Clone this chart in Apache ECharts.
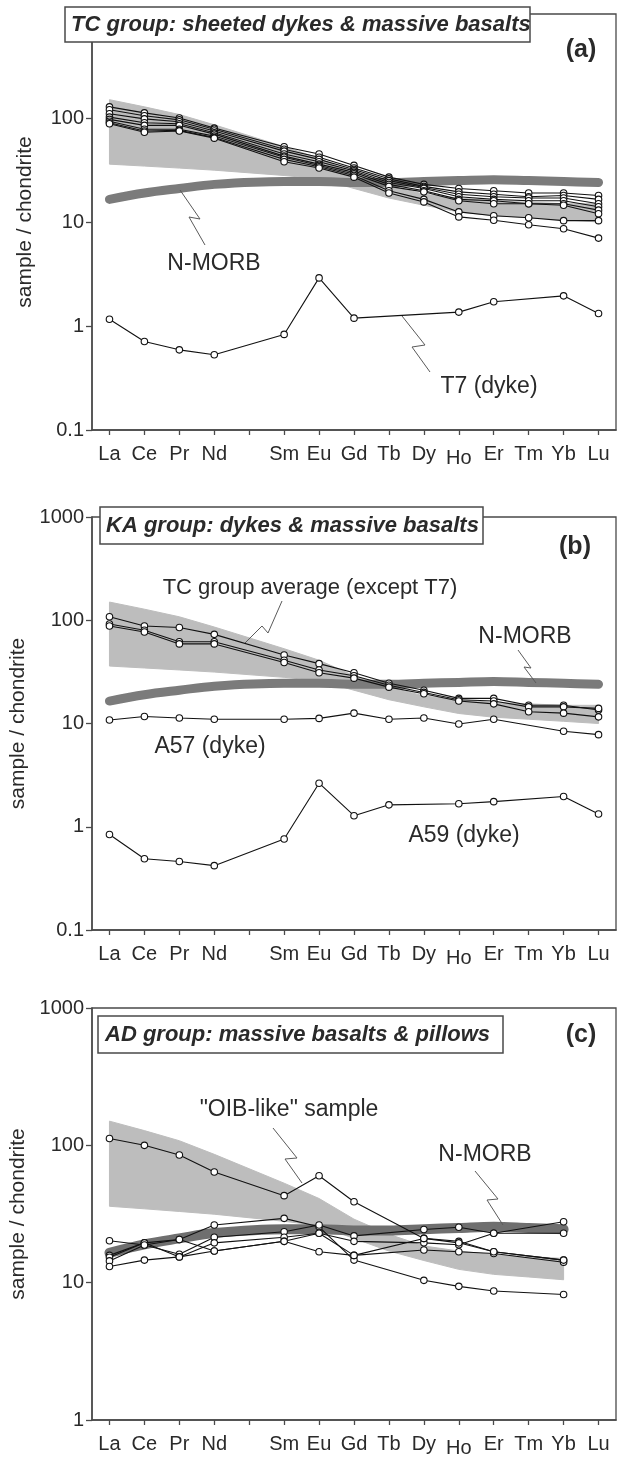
<!DOCTYPE html>
<html><head><meta charset="utf-8">
<script src="https://cdn.jsdelivr.net/npm/echarts@6/dist/echarts.min.js"></script>
<style>html,body{margin:0;padding:0;background:#fff}#c{width:624px;height:1457px}</style>
</head><body><div id="c"></div>
<script>
// ---- categories / tick labels ----
const elements   = ['La','Ce','Pr','Nd','Pm','Sm','Eu','Gd','Tb','Dy','Ho','Er','Tm','Yb','Lu'];
const tickLabels = ['La','Ce','Pr','Nd','','Sm','Eu','Gd','Tb','Dy','Ho','Er','Tm','Yb','Lu'];
const yTicksAB = [0.1, 1, 10, 100, 1000];
const yTicksC  = [1, 10, 100, 1000];

// ---- reference curves ----
const nmorb      = [16.5,19,21,23,null,24.5,24.5,24,24,24.5,25,25.5,25,24.5,24];
const bandTop    = [150,128,108,86,null,53,41,29,22.5,18.5,17,16,15.5,15,15];
const bandBottom = [36,34.5,33,31.5,null,28,26,21,17,14.5,12.5,11.5,11,10.5,10];

// ---- (a) TC group ----
const tc1 = [128,112,100,80,null,53,45,35,27,23,21,20,19,19,18];
const tc2 = [120,105,96,78,null,50,42,33,26,22,19.5,18.5,17.5,18,16.5];
const tc3 = [110,98,92,75,null,48,40,32,25,21.5,18.5,17.5,17,17,15];
const tc4 = [102,90,88,72,null,45,38,31,24,21,17.5,16.5,16,16,14];
const tc5 = [97,85,85,70,null,43,36,30,23,20,16.5,16,15,15,13];
const tc6 = [93,78,78,67,null,42,35,29,22,19.5,16,15,15,14.5,12];
const tc7 = [90,75,76,65,null,40,34,28,20,16.5,12.5,11.5,11,10.3,10.3];
const tc8 = [88,73,75,64,null,38,33,27,19,15.6,11.2,10.4,9.4,8.6,7.0];
const t7  = [1.16,0.71,0.59,0.53,null,0.83,2.9,1.19,null,null,1.36,1.71,null,1.95,1.32];

// ---- (b) KA group ----
const ka1 = [108,88,85,73,null,46,38,31,24.5,21,17.5,17.5,15,15,13.5];
const ka2 = [92,80,62,62,null,41,33,29,23.5,20,17,16.5,14.5,14.5,14];
const ka3 = [88,77,59,59,null,39,31,27.5,22.5,19.4,16.5,15.5,13,12.6,11.6];
const a57 = [10.8,11.7,11.3,11,null,11,11.2,12.6,11,11.3,9.9,11,null,8.4,7.8];
const a59 = [0.84,0.49,0.46,0.42,null,0.76,2.64,1.28,1.63,null,1.67,1.75,null,1.96,1.33];

// ---- (c) AD group ----
const ad1 = [15.8,19.5,20.6,26.3,null,29.4,25.5,14.6,null,10.4,9.4,8.7,null,8.2,null];
const ad2 = [20.2,18.8,16.1,21.4,null,23.5,26.3,21.9,null,24.4,25.3,22.9,null,22.9,null];
const ad3 = [15.3,19.5,15.4,19.5,null,21.4,22.9,20,null,19.5,18.9,22.9,null,27.8,null];
const ad4 = [14.4,18.8,20.6,17,null,20,22.9,15.8,null,21,20,16.8,null,14.6,null];
const ad5 = [13.1,14.6,15.4,17,null,20,16.8,15.8,null,17.3,16.8,16.3,null,14.1,null];
const oib = [112,100,85,64,null,43,60,38.8,null,21,19.5,16.8,null,14.6,null];

const FONT = '"Liberation Sans", Arial, Helvetica, sans-serif';
const AX = '#4a4a4a';
const TXT = '#2a2a2a';

const grids = [
  {left:92, right:8, top:14,   height:416},
  {left:92, right:8, top:517,  height:413},
  {left:92, right:8, top:1008, height:412}
].map(g => Object.assign({show:true, borderColor:AX, borderWidth:1.3, backgroundColor:'transparent', containLabel:false, outerBoundsMode:'none'}, g));

function xAxis(i){
  return {
    type:'category', gridIndex:i, data:elements, boundaryGap:true,
    axisLine:{show:true, lineStyle:{color:AX, width:1.5}},
    axisTick:{show:true, alignWithLabel:true, length:5, lineStyle:{color:AX, width:1.3}},
    axisLabel:{show:true, interval:0, margin:14, fontSize:20, fontFamily:FONT, color:TXT,
      formatter:(v, idx) => { const t = tickLabels[idx]; return t === 'Ho' ? '{ho|Ho}' : t; },
      rich:{ho:{fontSize:20, fontFamily:FONT, color:TXT, padding:[4,0,0,0]}}},
    splitLine:{show:false}
  };
}
function fmtY(v){ const n = Number(Number(v).toPrecision(3)); return String(n); }
function yAxis(i, ticks, hideTop){
  return {
    type:'log', logBase:10, gridIndex:i, min:ticks[0], max:ticks[ticks.length-1],
    name:'sample / chondrite', nameLocation:'middle', nameGap:56, nameRotate:90,
    nameTextStyle:{fontSize:21, fontFamily:FONT, color:TXT},
    axisLine:{show:true, lineStyle:{color:AX, width:1.5}},
    axisTick:{show:true, length:6, lineStyle:{color:AX, width:1.3}},
    axisLabel:{show:true, margin:8, fontSize:20, fontFamily:FONT, color:TXT,
      formatter:(v) => (hideTop && v >= 999) ? '' : fmtY(v)},
    splitLine:{show:false}, minorTick:{show:false}
  };
}

function sampleLine(data, i){
  return {type:'line', xAxisIndex:i, yAxisIndex:i, data, connectNulls:true,
    symbol:'circle', symbolSize:6.5, showSymbol:true, showAllSymbol:true,
    lineStyle:{color:'#111', width:1.1}, itemStyle:{color:'#fff', borderColor:'#111', borderWidth:1.1},
    z:5, silent:true, animation:false, emphasis:{disabled:true}};
}
function morbLine(data, i, color, width){
  return {type:'line', xAxisIndex:i, yAxisIndex:i, data, connectNulls:true, smooth:0.35,
    symbol:'none', lineStyle:{color, width, cap:'round'}, z:3, silent:true, animation:false};
}
function band(i, top, bot){
  return {type:'custom', xAxisIndex:i, yAxisIndex:i, z:1, silent:true, animation:false,
    data:[[0, top[0]]],
    renderItem(params, api){
      const pts = [];
      top.forEach((v,k) => { if (v != null) pts.push(api.coord([k, v])); });
      for (let k = bot.length-1; k >= 0; k--) if (bot[k] != null) pts.push(api.coord([k, bot[k]]));
      return {type:'polygon', shape:{points:pts}, style:{fill:'#bdbdbd', stroke:'#bdbdbd', lineWidth:1}};
    }};
}

const series = [
  band(0, bandTop, bandBottom),
  morbLine(nmorb, 0, '#7b7b7b', 9),
  ...[tc1,tc2,tc3,tc4,tc5,tc6,tc7,tc8,t7].map(d => sampleLine(d, 0)),
  band(1, bandTop, bandBottom),
  morbLine(nmorb, 1, '#7b7b7b', 9),
  ...[ka1,ka2,ka3,a57,a59].map(d => sampleLine(d, 1)),
  band(2, bandTop.slice(0,14), bandBottom.slice(0,14)),
  morbLine(nmorb.slice(0,14), 2, '#6f6f6f', 10),
  ...[ad1,ad2,ad3,ad4,ad5,oib].map(d => sampleLine(d, 2))
];

function txt(x, y, text, font, align){
  return {type:'text', x, y, z:101, silent:true,
    style:{text, font, fill:TXT, align:align||'left', verticalAlign:'middle', textAlign:align||'left', textVerticalAlign:'middle'}};
}
function box(x, y, w, h){
  return {type:'rect', z:100, silent:true, shape:{x, y, width:w, height:h}, style:{fill:'#fff', stroke:AX, lineWidth:1.5}};
}
function leader(points){
  return {type:'polyline', z:100, silent:true, shape:{points}, style:{stroke:'#5a5a5a', lineWidth:1, fill:null}};
}
const BI = 'italic bold 22px ' + FONT;
const BL = 'bold 25px ' + FONT;
const RG = '23px ' + FONT;

const graphic = [
  box(65, 7, 465, 35), txt(71, 25, 'TC group: sheeted dykes & massive basalts', BI),
  txt(581, 50, '(a)', BL, 'center'),
  txt(214, 264, 'N-MORB', RG, 'center'),
  leader([[180,190],[200,219],[189,217],[205,245]]),
  txt(489, 387, 'T7 (dyke)', RG, 'center'),
  leader([[402,316],[425,345],[412,347],[430,372]]),

  box(100, 507, 383, 37), txt(106, 526, 'KA group: dykes & massive basalts', BI),
  txt(575, 547, '(b)', BL, 'center'),
  txt(310, 588, 'TC group average (except T7)', '22px ' + FONT, 'center'),
  leader([[245,643],[262,626],[268,633],[282,601]]),
  txt(525, 637, 'N-MORB', RG, 'center'),
  leader([[518,650],[531,668],[524,667],[536,683]]),
  txt(210, 747, 'A57 (dyke)', RG, 'center'),
  txt(464, 836, 'A59 (dyke)', RG, 'center'),

  box(98, 1016, 405, 37), txt(105, 1035, 'AD group: massive basalts & pillows', BI),
  txt(581, 1035, '(c)', BL, 'center'),
  txt(289, 1110, '"OIB-like" sample', RG, 'center'),
  leader([[273,1128],[297,1158],[285,1159],[302,1183]]),
  txt(485, 1155, 'N-MORB', RG, 'center'),
  leader([[475,1171],[498,1199],[487,1200],[503,1225]])
];

const chart = echarts.init(document.getElementById('c'), null, {renderer:'canvas', width:624, height:1457});
chart.setOption({
  animation:false, backgroundColor:'#fff',
  grid:grids,
  xAxis:[xAxis(0), xAxis(1), xAxis(2)],
  yAxis:[yAxis(0, yTicksAB, true), yAxis(1, yTicksAB, false), yAxis(2, yTicksC, false)],
  series, graphic
});
</script></body></html>
